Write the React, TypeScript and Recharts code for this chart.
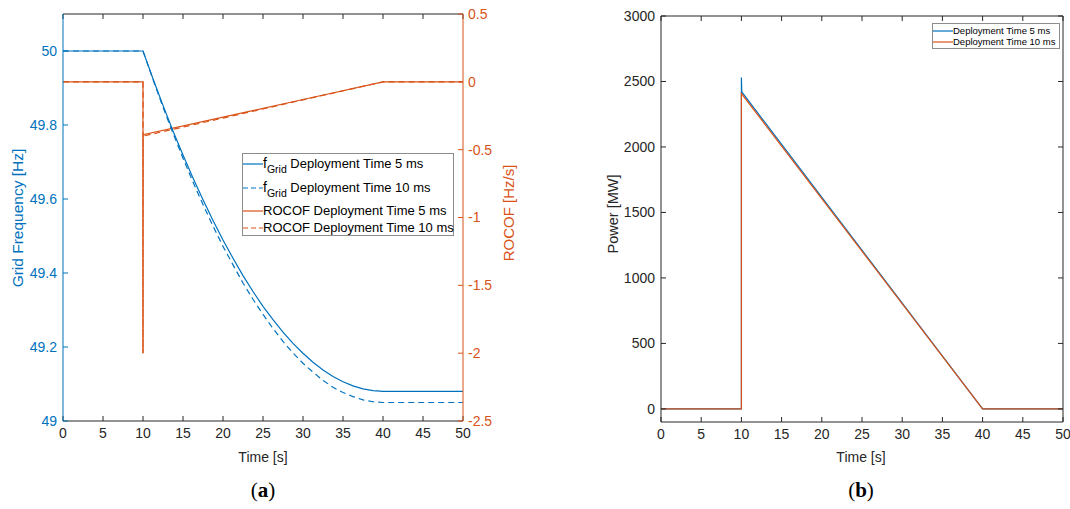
import React from "react";
import { LineChart, Line, XAxis, YAxis } from "recharts";

// ---- panel (a): grid frequency and ROCOF ----
const freqTime = [
  0, 10, 11.25, 12.5, 13.75, 15, 16.25, 17.5, 18.75, 20, 21.25, 22.5, 23.75, 25, 26.25, 27.5, 28.75, 30, 31.25, 32.5,
  33.75, 35, 36.25, 37.5, 38.75, 40, 50,
];
const freq5ms = [
  50, 50, 49.925, 49.853, 49.784, 49.719, 49.657, 49.598, 49.542, 49.489, 49.44, 49.393, 49.35, 49.31, 49.274, 49.24,
  49.21, 49.183, 49.159, 49.138, 49.12, 49.106, 49.095, 49.087, 49.082, 49.08, 49.08,
];
const freq10ms = [
  50, 50, 49.923, 49.848, 49.778, 49.71, 49.646, 49.585, 49.527, 49.472, 49.422, 49.373, 49.329, 49.288, 49.25, 49.215,
  49.184, 49.156, 49.132, 49.11, 49.091, 49.077, 49.066, 49.057, 49.052, 49.05, 49.05,
];

const rocofTime = [0, 10, 10, 10.01, 20, 30, 40, 50];
const rocof5ms = [0, 0, -2, -0.39, -0.26, -0.13, 0, 0];
const rocof10ms = [0, 0, -2, -0.4, -0.267, -0.133, 0, 0];

// ---- panel (b): power ----
const powerTime5ms = [0, 10, 10, 10.05, 40, 50];
const power5ms = [0, 0, 2530, 2420, 0, 0];
const powerTime10ms = [0, 10, 10, 40, 50];
const power10ms = [0, 0, 2408, 0, 0];

const timeTicks = [0, 5, 10, 15, 20, 25, 30, 35, 40, 45, 50];
const freqTicks = [49, 49.2, 49.4, 49.6, 49.8, 50];
const rocofTicks = [-2.5, -2, -1.5, -1, -0.5, 0, 0.5];
const powerTicks = [0, 500, 1000, 1500, 2000, 2500, 3000];

const BLUE = "#0072BD";
const ORANGE = "#D95319";
const DARK = "#262626";
const FONT = "'Liberation Sans', Arial, sans-serif";

const zip = (xs: number[], ys: number[]) => xs.map((t, i) => ({ t, v: ys[i] }));

const f5 = zip(freqTime, freq5ms);
const f10 = zip(freqTime, freq10ms);
const r5 = zip(rocofTime, rocof5ms);
const r10 = zip(rocofTime, rocof10ms);
const p5 = zip(powerTime5ms, power5ms);
const p10 = zip(powerTime10ms, power10ms);

const blank = () => "";

function LegendLine({ color, dash }: { color: string; dash?: string }) {
  return (
    <svg width={20} height={10} style={{ display: "block", flex: "none" }}>
      <line x1={0} x2={20} y1={5} y2={5} stroke={color} strokeWidth={1.2} strokeDasharray={dash} />
    </svg>
  );
}

const legendA = [
  { top: 2, color: BLUE, dash: undefined, sub: true, text: " Deployment Time 5 ms" },
  { top: 26, color: BLUE, dash: "5 3", sub: true, text: " Deployment Time 10 ms" },
  { top: 49, color: ORANGE, dash: undefined, sub: false, text: "ROCOF Deployment Time 5 ms" },
  { top: 66, color: ORANGE, dash: "5 3", sub: false, text: "ROCOF Deployment Time 10 ms" },
];

const legendB = [
  { top: 2, color: BLUE, text: "Deployment Time 5 ms" },
  { top: 13, color: ORANGE, text: "Deployment Time 10 ms" },
];

export default function App() {
  return (
    <div style={{ position: "relative", width: 1070, height: 509, background: "#fff", fontFamily: FONT }}>
      <style>{"body{margin:0}"}</style>

      {/* (a) */}
      <div style={{ position: "absolute", left: 0, top: 0 }}>
        <LineChart width={530} height={509} margin={{ top: 13, right: 7, bottom: 58, left: 0 }}>
          <XAxis
            xAxisId="b"
            dataKey="t"
            type="number"
            domain={[0, 50]}
            ticks={timeTicks}
            stroke={DARK}
            tickSize={-5}
            tickMargin={12}
            height={30}
            tick={{ fill: DARK, fontSize: 14 }}
          />
          <XAxis
            xAxisId="top"
            orientation="top"
            dataKey="t"
            type="number"
            domain={[0, 50]}
            ticks={timeTicks}
            stroke={DARK}
            tickSize={-5}
            tickFormatter={blank}
            height={1}
          />
          <YAxis
            yAxisId="f"
            type="number"
            domain={[49, 50.1]}
            ticks={freqTicks}
            stroke={BLUE}
            width={63}
            tickSize={-5}
            tickMargin={11}
            tick={{ fill: BLUE, fontSize: 14 }}
          />
          <YAxis
            yAxisId="r"
            orientation="right"
            type="number"
            domain={[-2.5, 0.5]}
            ticks={rocofTicks}
            stroke={ORANGE}
            width={60}
            tickSize={-5}
            tickMargin={10}
            tick={{ fill: ORANGE, fontSize: 14 }}
          />
          <Line xAxisId="b" yAxisId="r" data={r5} dataKey="v" type="linear" stroke={ORANGE} strokeWidth={1.2} dot={false} isAnimationActive={false} />
          <Line xAxisId="b" yAxisId="r" data={r10} dataKey="v" type="linear" stroke={ORANGE} strokeWidth={1.2} strokeDasharray="6 4" dot={false} isAnimationActive={false} />
          <Line xAxisId="top" yAxisId="f" data={f5} dataKey="v" type="linear" stroke={BLUE} strokeWidth={1.2} dot={false} isAnimationActive={false} />
          <Line xAxisId="top" yAxisId="f" data={f10} dataKey="v" type="linear" stroke={BLUE} strokeWidth={1.2} strokeDasharray="6 4" dot={false} isAnimationActive={false} />
        </LineChart>
      </div>

      <div
        style={{
          position: "absolute",
          left: 242,
          top: 153,
          width: 210,
          height: 81,
          border: "1px solid #8c8c8c",
          background: "#fff",
          fontSize: 13,
          color: "#000",
        }}
      >
        {legendA.map((e) => (
          <div key={e.text + e.top} style={{ position: "absolute", left: 0, top: e.top, display: "flex", alignItems: "center", whiteSpace: "nowrap", lineHeight: "15px" }}>
            <LegendLine color={e.color} dash={e.dash} />
            <span>
              {e.sub ? (
                <>
                  <span style={{ fontSize: 14 }}>f</span>
                  <sub style={{ fontSize: 10.5, verticalAlign: "-5px", lineHeight: 0 }}>Grid</sub>
                </>
              ) : null}
              {e.text}
            </span>
          </div>
        ))}
      </div>

      <div style={{ position: "absolute", left: 263, top: 449, transform: "translateX(-50%)", fontSize: 14, color: DARK }}>Time [s]</div>
      <div
        style={{ position: "absolute", left: 18, top: 218, transform: "translate(-50%,-50%) rotate(-90deg)", fontSize: 15.5, color: BLUE, whiteSpace: "nowrap" }}
      >
        Grid Frequency [Hz]
      </div>
      <div
        style={{ position: "absolute", left: 508, top: 213, transform: "translate(-50%,-50%) rotate(-90deg)", fontSize: 15, color: ORANGE, whiteSpace: "nowrap" }}
      >
        ROCOF [Hz/s]
      </div>
      <div style={{ position: "absolute", left: 263, top: 478, transform: "translateX(-50%)", fontSize: 21, fontFamily: "'Liberation Serif', serif" }}>
        (<b>a</b>)
      </div>

      {/* (b) */}
      <div style={{ position: "absolute", left: 540, top: 0 }}>
        <LineChart width={530} height={509} margin={{ top: 15, right: 6, bottom: 57, left: 61 }}>
          <XAxis
            xAxisId="b"
            dataKey="t"
            type="number"
            domain={[0, 50]}
            ticks={timeTicks}
            stroke={DARK}
            tickSize={-5}
            tickMargin={12}
            height={30}
            tick={{ fill: DARK, fontSize: 14 }}
          />
          <XAxis
            xAxisId="top"
            orientation="top"
            dataKey="t"
            type="number"
            domain={[0, 50]}
            ticks={timeTicks}
            stroke={DARK}
            tickSize={-5}
            tickFormatter={blank}
            height={1}
          />
          <YAxis
            yAxisId="p"
            type="number"
            domain={[-100, 3000]}
            ticks={powerTicks}
            stroke={DARK}
            width={60}
            tickSize={-5}
            tickMargin={11}
            tick={{ fill: DARK, fontSize: 14 }}
          />
          <YAxis
            yAxisId="pr"
            orientation="right"
            type="number"
            domain={[-100, 3000]}
            ticks={powerTicks}
            stroke={DARK}
            width={1}
            tickSize={-5}
            tickFormatter={blank}
          />
          <Line xAxisId="b" yAxisId="p" data={p5} dataKey="v" type="linear" stroke={BLUE} strokeWidth={1.2} dot={false} isAnimationActive={false} />
          <Line xAxisId="top" yAxisId="pr" data={p10} dataKey="v" type="linear" stroke={ORANGE} strokeWidth={1.2} dot={false} isAnimationActive={false} />
        </LineChart>
      </div>

      <div
        style={{
          position: "absolute",
          left: 932,
          top: 23,
          width: 126,
          height: 24,
          border: "1px solid #8c8c8c",
          background: "#fff",
          fontSize: 9.5,
          color: "#000",
        }}
      >
        {legendB.map((e) => (
          <div key={e.text} style={{ position: "absolute", left: 0, top: e.top, display: "flex", alignItems: "center", whiteSpace: "nowrap", lineHeight: "10px" }}>
            <LegendLine color={e.color} />
            <span>{e.text}</span>
          </div>
        ))}
      </div>

      <div style={{ position: "absolute", left: 861, top: 449, transform: "translateX(-50%)", fontSize: 14, color: DARK }}>Time [s]</div>
      <div
        style={{ position: "absolute", left: 613, top: 214, transform: "translate(-50%,-50%) rotate(-90deg)", fontSize: 14.5, color: DARK, whiteSpace: "nowrap" }}
      >
        Power [MW]
      </div>
      <div style={{ position: "absolute", left: 861, top: 478, transform: "translateX(-50%)", fontSize: 21, fontFamily: "'Liberation Serif', serif" }}>
        (<b>b</b>)
      </div>
    </div>
  );
}
